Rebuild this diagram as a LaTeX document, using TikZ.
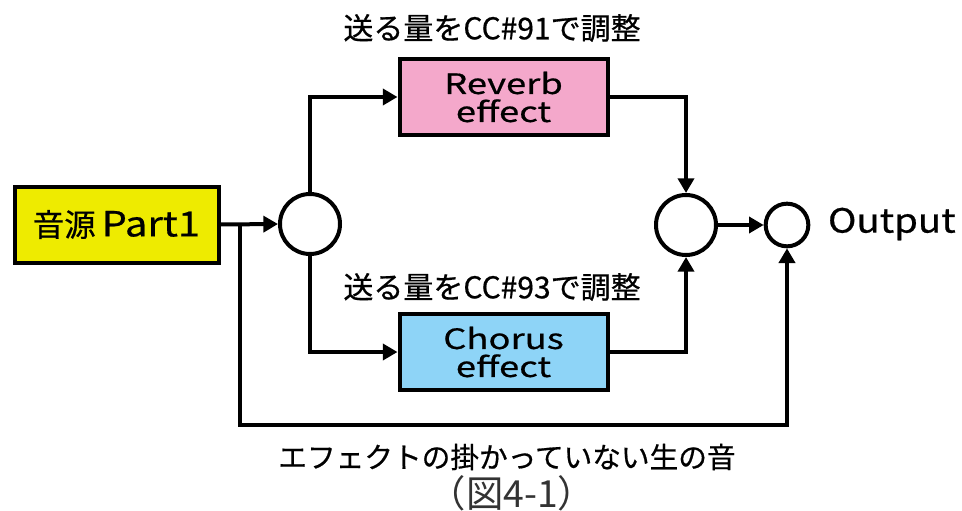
\documentclass[tikz,border=0pt]{standalone}
\usepackage{fontspec}
\setmainfont[FakeBold=0.6]{Noto Sans CJK JP}
\newfontfamily\jpw[FakeStretch=1.15,FakeBold=0.6]{Noto Sans CJK JP}
\newfontfamily\jpww[FakeStretch=1.3,FakeBold=0.6]{Noto Sans CJK JP}
\newfontfamily\capf{Noto Sans CJK JP}
\usetikzlibrary{arrows.meta}
\definecolor{srcyellow}{HTML}{EEEB00}
\definecolor{revpink}{HTML}{F4A8CB}
\definecolor{choblue}{HTML}{8ED4F7}
\definecolor{capgray}{HTML}{333333}
\begin{document}
\begin{tikzpicture}[x=0.75pt,y=-0.75pt,
  line width=3pt,
  arr/.style={-{Triangle[length=11pt,width=12pt]}},
  box/.style={draw,line width=3pt,inner sep=0pt,minimum width=155pt,minimum height=57pt,align=center},
  sumc/.style={draw,circle,line width=3pt,inner sep=0pt,minimum size=45pt},
  lbl/.style={inner sep=0pt,font=\fontsize{22.5}{24}\selectfont}
  ]
\useasboundingbox (0,0) rectangle (962,510);
\node[box,fill=srcyellow,minimum width=153pt,minimum height=57pt] (src) at (116.5,224.5)
  {{\fontsize{23.5}{24}\selectfont 音源}\hspace{0.45em}{\jpw\fontsize{26}{26}\selectfont Part1}};
\node[box,fill=revpink,minimum width=156pt,font=\jpww\fontsize{21}{22}\selectfont] (rev) at (503.5,97)
  {Reverb\\[-1pt]effect};
\node[box,fill=choblue,minimum width=156pt,font=\jpww\fontsize{21}{22}\selectfont] (cho) at (503.5,352)
  {Chorus\\[-1pt]effect};
\node[sumc] (split) at (310,224) {};
\node[sumc] (sum) at (686,225) {};
\node[sumc,minimum size=32pt] (out) at (787,225) {};
\node[inner sep=0pt,anchor=west,font=\jpw\fontsize{25}{26}\selectfont] (outl) at (826,224) {Output};
\node[lbl] (l91) at (492,28) {送る量をCC\#91で調整};
\node[lbl] (l93) at (492,287) {送る量をCC\#93で調整};
\node[lbl,font=\fontsize{21.5}{24}\selectfont] (ldry) at (507,457) {エフェクトの掛かっていない生の音};
\node[inner sep=0pt,text=capgray,font=\capf\fontsize{28}{30}\selectfont] (cap) at (512,493) {（図4-1）};
\coordinate (bj) at (240,224);
\coordinate (bc) at (240,425);
\draw[arr] (src.east) -- (split.west);
\draw[arr] (split.north) |- (rev.west);
\draw[arr] (split.south) |- (cho.west);
\draw[arr] (rev.east) -| (sum.north);
\draw[arr] (cho.east) -| (sum.south);
\draw[arr] (sum.east) -- (out.west);
\draw[arr] (bj) -- (bc) -| (out.south);
\end{tikzpicture}
\end{document}
